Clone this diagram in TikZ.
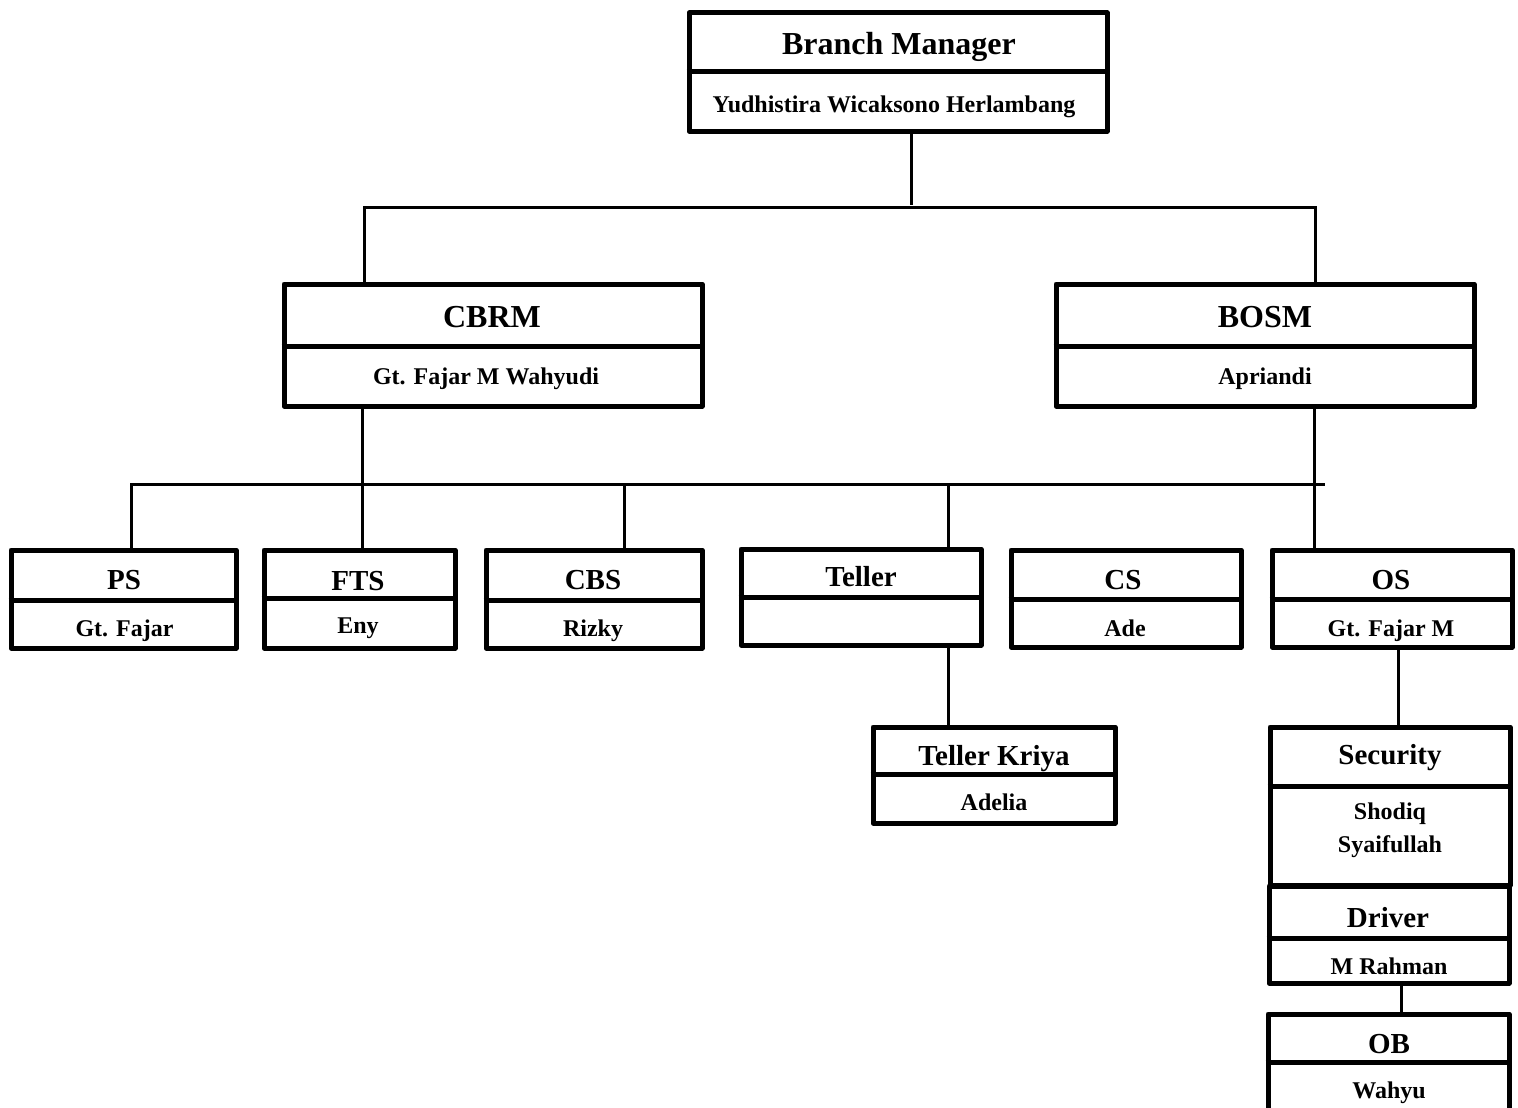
\documentclass[tikz,border=0pt]{standalone}
\usepackage{fontspec}
\setmainfont{Liberation Serif}
\begin{document}
\begin{tikzpicture}[x=1pt,y=-1pt,
  orgbox/.style={draw, line width=5pt, line join=round, inner sep=0pt, fill=white},
  divline/.style={line width=5pt},
  conn/.style={line width=3pt},
  bigtitle/.style={anchor=base, inner sep=0pt, font=\fontsize{32}{38}\selectfont\bfseries},
  midtitle/.style={anchor=base, inner sep=0pt, font=\fontsize{29}{34}\selectfont\bfseries},
  person/.style={anchor=base, inner sep=0pt, font=\fontsize{24}{34}\selectfont\bfseries, align=center}]
\useasboundingbox (0,0) rectangle (1518,1108);
\fill[white] (0,0) rectangle (1518,1108);

% ---------- boxes ----------
\node (bm) [orgbox, minimum width=418pt, minimum height=118pt] at (898,72) {};
\node (cbrm) [orgbox, minimum width=418pt, minimum height=122pt] at (493,345) {};
\node (bosm) [orgbox, minimum width=418pt, minimum height=122pt] at (1265,345) {};
\node (ps) [orgbox, minimum width=225pt, minimum height=98pt] at (123.5,599) {};
\node (fts) [orgbox, minimum width=191pt, minimum height=98pt] at (359.5,599) {};
\node (cbs) [orgbox, minimum width=216pt, minimum height=98pt] at (594,599) {};
\node (teller) [orgbox, minimum width=240pt, minimum height=96pt] at (861,597) {};
\node (cs) [orgbox, minimum width=230pt, minimum height=97pt] at (1126,598.5) {};
\node (os) [orgbox, minimum width=240pt, minimum height=97pt] at (1392,598.5) {};
\node (tk) [orgbox, minimum width=242pt, minimum height=96pt] at (994,775) {};
\node (sec) [orgbox, minimum width=240pt, minimum height=158pt] at (1390,806) {};
\node (drv) [orgbox, minimum width=240pt, minimum height=97pt] at (1389,934.5) {};
\node (ob) [orgbox, minimum width=241pt, minimum height=110pt] at (1388.5,1069) {};

% ---------- dividers ----------
\draw[divline] (bm.west |- 0,72) -- (bm.east |- 0,72);
\draw[divline] (cbrm.west |- 0,346) -- (cbrm.east |- 0,346);
\draw[divline] (bosm.west |- 0,346) -- (bosm.east |- 0,346);
\draw[divline] (ps.west |- 0,600) -- (ps.east |- 0,600);
\draw[divline] (fts.west |- 0,598) -- (fts.east |- 0,598);
\draw[divline] (cbs.west |- 0,600) -- (cbs.east |- 0,600);
\draw[divline] (teller.west |- 0,597) -- (teller.east |- 0,597);
\draw[divline] (cs.west |- 0,599) -- (cs.east |- 0,599);
\draw[divline] (os.west |- 0,599) -- (os.east |- 0,599);
\draw[divline] (tk.west |- 0,774) -- (tk.east |- 0,774);
\draw[divline] (sec.west |- 0,786) -- (sec.east |- 0,786);
\draw[divline] (drv.west |- 0,938) -- (drv.east |- 0,938);
\draw[divline] (ob.west |- 0,1062) -- (ob.east |- 0,1062);

% ---------- texts ----------
\node (bmT) [bigtitle] at (899,55) {Branch Manager};
\node (bmP) [person] at (894,112) {Yudhistira Wicaksono Herlambang};
\node (cbrmT) [bigtitle] at (492,327) {CBRM};
\node (cbrmP) [person] at (486,384) {Gt. Fajar M Wahyudi};
\node (bosmT) [bigtitle] at (1265,327) {BOSM};
\node (bosmP) [person] at (1265,384) {Apriandi};
\node (psT) [midtitle] at (124,589) {PS};
\node (psP) [person] at (124.5,636) {Gt. Fajar};
\node (ftsT) [midtitle] at (358,590) {FTS};
\node (ftsP) [person] at (358,633) {Eny};
\node (cbsT) [midtitle] at (593,589) {CBS};
\node (cbsP) [person] at (593,636) {Rizky};
\node (tellerT) [midtitle] at (861,586) {Teller};
\node (csT) [midtitle] at (1123,589) {CS};
\node (csP) [person] at (1125,636) {Ade};
\node (osT) [midtitle] at (1391,589) {OS};
\node (osP) [person] at (1391,636) {Gt. Fajar M};
\node (tkT) [midtitle] at (994,765) {Teller Kriya};
\node (tkP) [person] at (994,810) {Adelia};
\node (secT) [midtitle] at (1390,764) {Security};
\node (secP1) [person] at (1390,819) {Shodiq};
\node (secP2) [person] at (1390,852) {Syaifullah};
\node (drvT) [midtitle] at (1388,927) {Driver};
\node (drvP) [person] at (1389,974) {M Rahman};
\node (obT) [midtitle] at (1389,1053) {OB};
\node (obP) [person] at (1389,1098) {Wahyu};

% ---------- connectors ----------
\coordinate (j1) at (911,205);
\coordinate (h1l) at (364,207);
\coordinate (h1r) at (1315,207);
\draw[conn] (bm.south -| j1) -- (j1);
\draw[conn] (cbrm.north -| h1l) -- (h1l) -- (h1r) -- (bosm.north -| h1r);

\coordinate (h2l) at (131,484);
\coordinate (h2r) at (1325,484);
\coordinate (cbsj) at (624,484);
\coordinate (telj) at (948,484);
\draw[conn] (ps.north -| h2l) -- (h2l) -- (h2r);
\draw[conn] (cbrm.south -| 362,0) -- (fts.north -| 362,0);
\draw[conn] (cbsj) -- (cbs.north -| cbsj);
\draw[conn] (telj) -- (teller.north -| telj);
\draw[conn] (bosm.south -| 1314,0) -- (os.north -| 1314,0);
\draw[conn] (teller.south -| telj) -- (tk.north -| telj);
\draw[conn] (os.south -| 1398,0) -- (sec.north -| 1398,0);
\draw[conn] (drv.south -| 1401,0) -- (ob.north -| 1401,0);
\end{tikzpicture}
\end{document}
